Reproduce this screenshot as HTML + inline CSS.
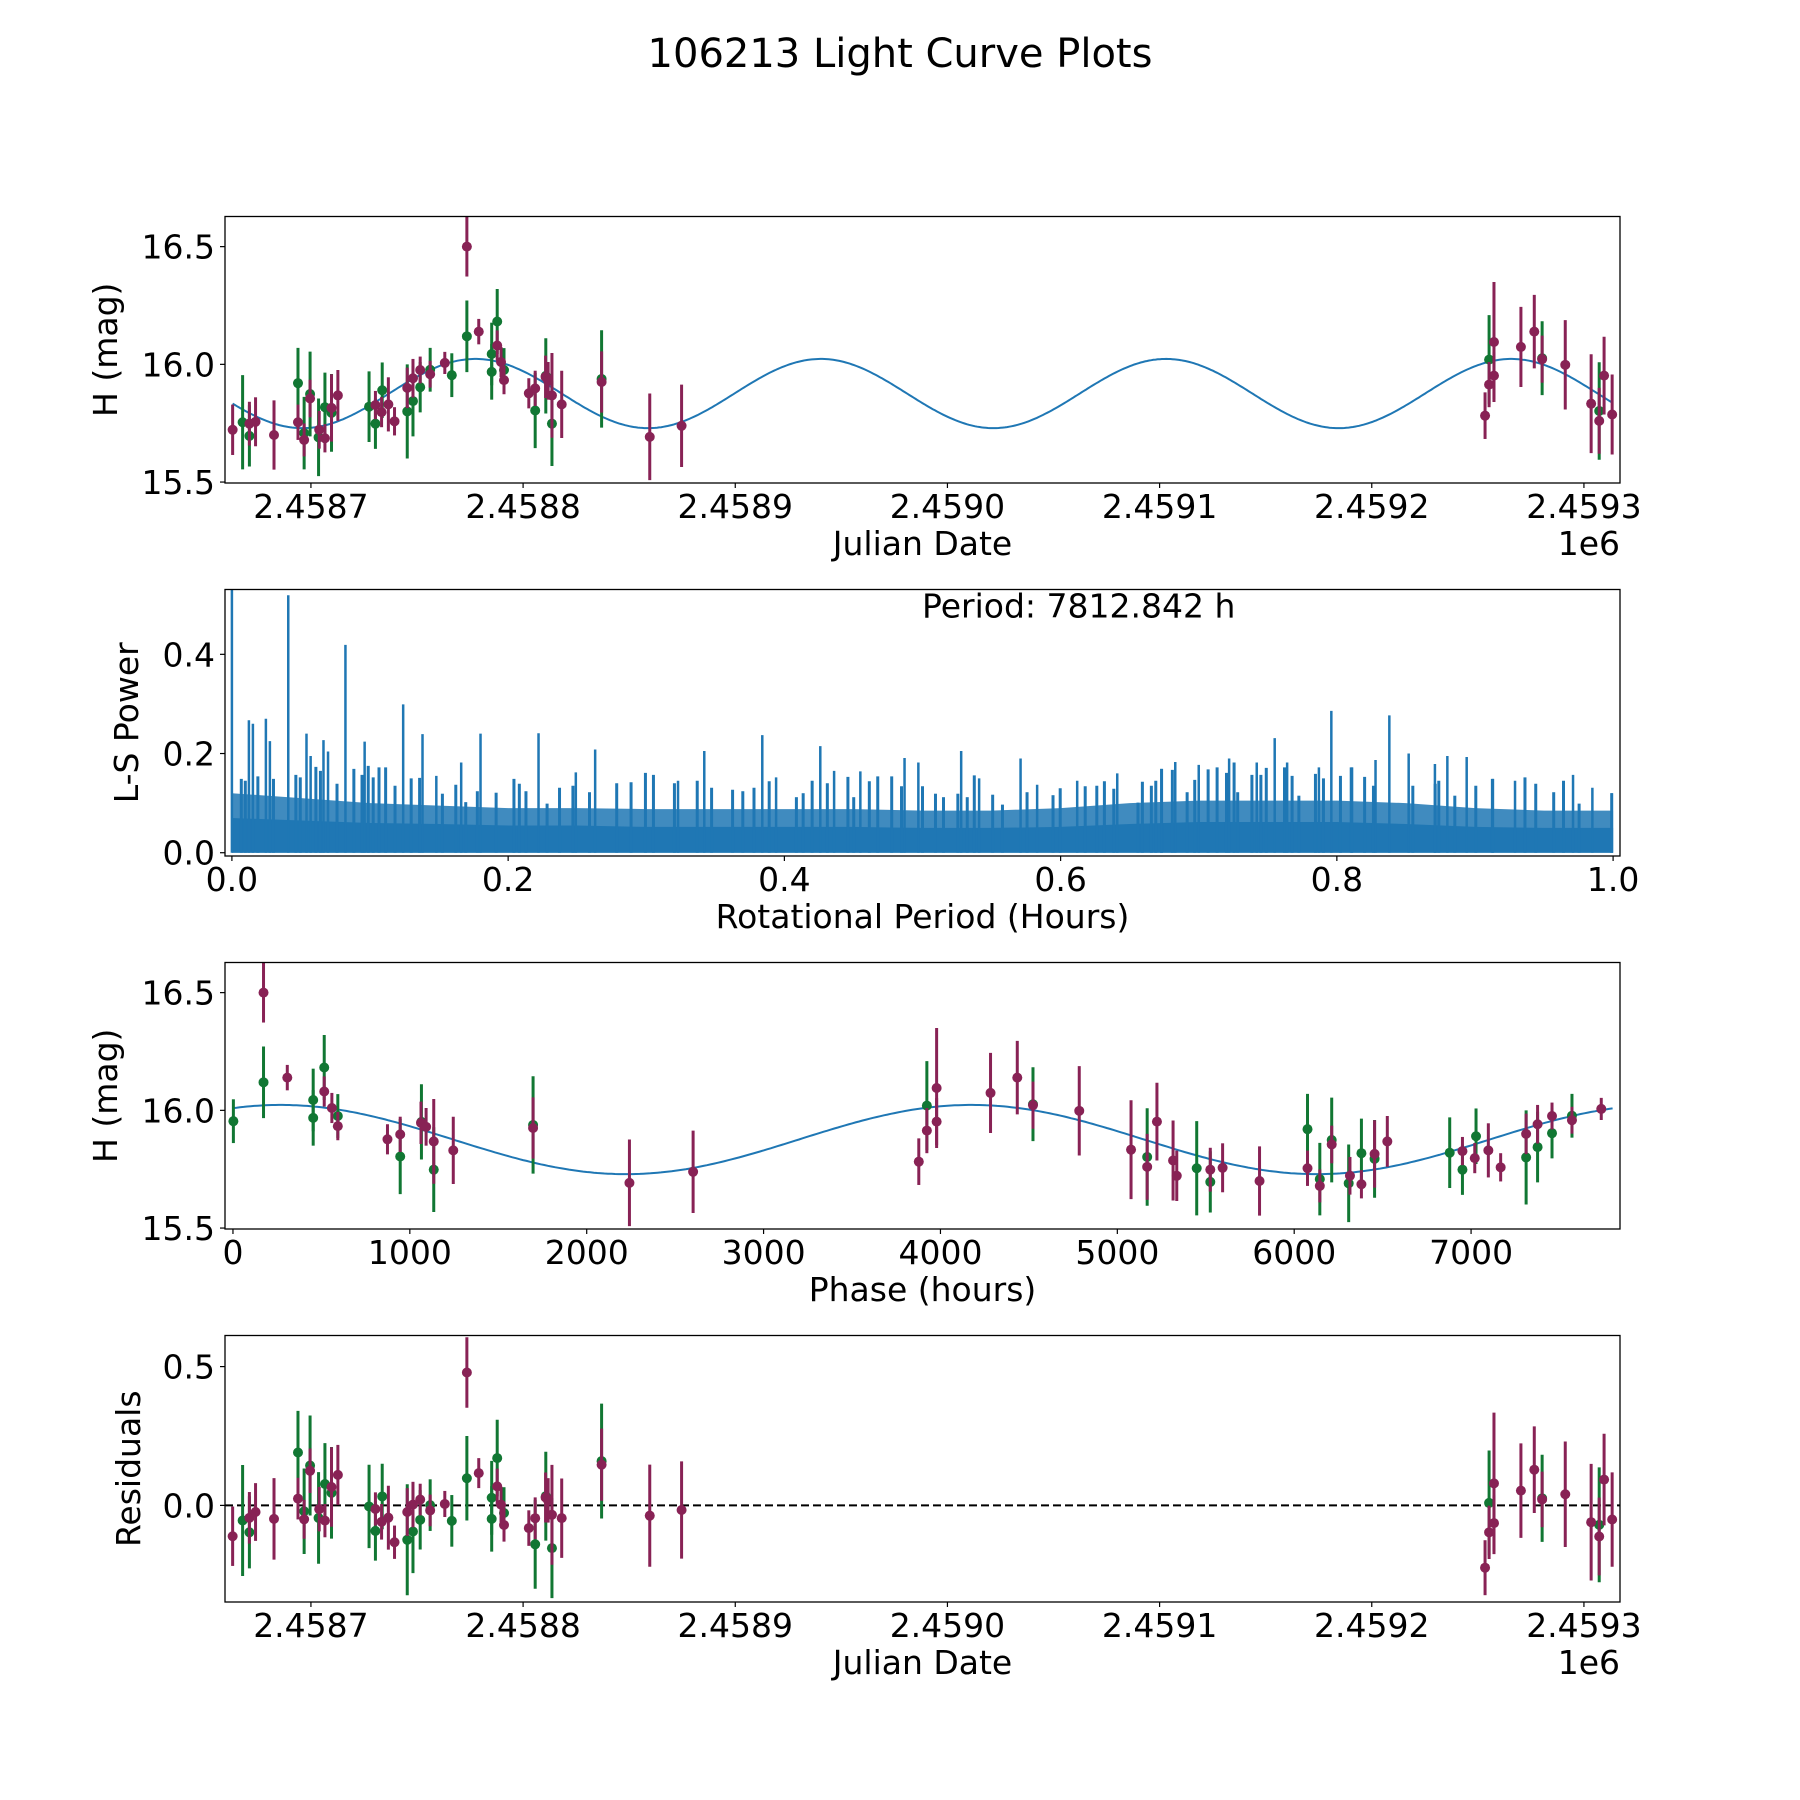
<!DOCTYPE html>
<html><head><meta charset="utf-8"><style>
html,body{margin:0;padding:0;background:#fff;}
svg{display:block;font-family:"DejaVu Sans","Liberation Sans",sans-serif;}
</style></head><body>
<svg id="fig" width="1800" height="1800" viewBox="0 0 1800 1800" xmlns="http://www.w3.org/2000/svg">
<rect width="1800" height="1800" fill="#fff"/>
<text x="900" y="67" font-size="40" text-anchor="middle">106213 Light Curve Plots</text>
</svg>
<script>
// ---- data (JD - 2458000) ----
const jdOff = [663.1,667.8,671.0,671.0,673.9,682.6,693.9,693.9,696.8,696.8,699.6,699.6,703.6,703.9,706.6,706.6,709.7,709.7,712.7,727.4,730.4,730.4,733.3,733.6,736.5,739.4,745.4,745.4,748.1,748.1,751.5,751.5,756.2,756.2,763.1,766.4,773.5,773.5,779.1,785.2,785.2,787.8,787.8,789.6,791.0,791.0,802.7,805.7,805.7,810.6,810.7,811.8,813.6,813.6,818.2,837.0,837.0,859.7,874.7,1253.4,1255.3,1255.3,1257.6,1257.6,1270.3,1276.6,1280.3,1280.3,1291.2,1303.4,1307.2,1307.2,1309.5,1313.3];
const mag = [15.722,15.754,15.748,15.696,15.756,15.70,15.754,15.92,15.708,15.679,15.874,15.855,15.69,15.722,15.818,15.686,15.815,15.794,15.868,15.82,15.748,15.827,15.797,15.89,15.83,15.758,15.80,15.90,15.844,15.941,15.903,15.976,15.977,15.958,16.006,15.954,16.119,16.5,16.139,16.044,15.968,16.182,16.08,16.01,15.976,15.933,15.877,15.898,15.804,15.947,15.951,15.93,15.868,15.748,15.83,15.938,15.925,15.692,15.739,15.782,15.914,16.02,16.095,15.952,16.074,16.139,16.026,16.022,15.998,15.833,15.802,15.76,15.952,15.787];
const magErr = [0.107,0.20,0.093,0.13,0.104,0.147,0.075,0.15,0.154,0.07,0.18,0.08,0.165,0.08,0.147,0.06,0.143,0.165,0.108,0.15,0.107,0.06,0.064,0.118,0.115,0.06,0.2,0.086,0.15,0.082,0.107,0.057,0.093,0.057,0.047,0.093,0.152,0.127,0.054,0.133,0.118,0.138,0.064,0.064,0.093,0.06,0.064,0.075,0.16,0.09,0.16,0.08,0.18,0.18,0.143,0.207,0.13,0.184,0.175,0.099,0.096,0.189,0.255,0.1,0.17,0.156,0.157,0.1,0.19,0.21,0.207,0.14,0.165,0.17];
const source = ["M","G","M","G","M","M","M","G","G","M","G","M","G","M","G","M","M","G","M","G","G","M","M","G","M","M","G","M","G","M","G","M","G","M","M","G","G","M","M","G","G","G","M","M","G","M","M","M","G","M","G","M","M","G","M","G","M","M","M","M","M","G","M","M","M","M","G","M","M","M","G","M","M","M"];
// fit parameters
const fitMean = 15.876, fitAmp = 0.147, fitPeriodDays = 162.768, fitMaxJD = 777.5;
const periodHours = 7812.842, phaseT0 = 766.3;
// periodogram: tall spikes, medium spikes and band envelope
const spikePeriod = [0.0,0.0123,0.0152,0.0246,0.0275,0.0408,0.054,0.057,0.0663,0.0696,0.0822,0.0961,0.124,0.138,0.148,0.166,0.180,0.222,0.249,0.263,0.323,0.342,0.384,0.394,0.426,0.436,0.455,0.487,0.497,0.528,0.541,0.571,0.583,0.612,0.641,0.673,0.683,0.70,0.722,0.742,0.755,0.764,0.787,0.796,0.811,0.828,0.838,0.852,0.871,0.880,0.894,0.913,0.929,0.971,0.985,0.999];
const spikePower = [0.55,0.267,0.26,0.27,0.225,0.519,0.24,0.195,0.227,0.204,0.419,0.224,0.299,0.239,0.155,0.182,0.24,0.241,0.162,0.208,0.145,0.205,0.237,0.152,0.215,0.165,0.164,0.191,0.182,0.205,0.15,0.19,0.137,0.145,0.16,0.169,0.183,0.177,0.19,0.182,0.231,0.182,0.172,0.286,0.172,0.187,0.277,0.20,0.179,0.195,0.193,0.149,0.145,0.157,0.131,0.12];
const medPeriod = [0.0068,0.0097,0.0188,0.0301,0.0463,0.0495,0.0608,0.0641,0.0761,0.0883,0.0942,0.0987,0.1023,0.1065,0.1113,0.1181,0.1298,0.1359,0.1524,0.1621,0.1693,0.1777,0.1913,0.2042,0.2081,0.2129,0.2282,0.2372,0.2469,0.2589,0.2786,0.2890,0.2994,0.3052,0.3204,0.3369,0.3473,0.3625,0.3699,0.3780,0.3890,0.4087,0.4136,0.4201,0.4311,0.4460,0.4502,0.4615,0.4676,0.4777,0.4848,0.5,0.5094,0.5152,0.5256,0.5324,0.5375,0.5508,0.5579,0.5757,0.5945,0.5997,0.6178,0.6262,0.6317,0.6385,0.6560,0.6592,0.6657,0.6689,0.6731,0.6809,0.6916,0.6971,0.7068,0.7133,0.7201,0.7256,0.7282,0.7385,0.7450,0.7489,0.7621,0.7676,0.7725,0.7845,0.7903,0.8026,0.8104,0.8201,0.8265,0.8550,0.8712,0.8738,0.8854,0.9006,0.9126,0.9362,0.9440,0.9570,0.9641,0.9754,0.9990];
const medPower = [0.149,0.145,0.154,0.149,0.157,0.152,0.173,0.165,0.139,0.169,0.157,0.175,0.152,0.172,0.172,0.135,0.150,0.151,0.119,0.137,0.102,0.124,0.121,0.149,0.139,0.124,0.099,0.131,0.135,0.122,0.140,0.142,0.161,0.157,0.140,0.145,0.131,0.127,0.124,0.131,0.144,0.112,0.120,0.145,0.140,0.153,0.112,0.144,0.154,0.154,0.134,0.134,0.119,0.112,0.119,0.112,0.156,0.117,0.097,0.122,0.116,0.130,0.134,0.135,0.144,0.129,0.101,0.143,0.135,0.145,0.169,0.167,0.122,0.147,0.168,0.172,0.161,0.182,0.122,0.157,0.157,0.171,0.172,0.155,0.115,0.159,0.150,0.155,0.172,0.153,0.135,0.135,0.139,0.145,0.115,0.135,0.149,0.152,0.139,0.122,0.145,0.099,0.120];
const bandPeriod = [0,0.05,0.1,0.15,0.2,0.25,0.3,0.35,0.4,0.45,0.5,0.55,0.6,0.65,0.7,0.75,0.8,0.85,0.9,0.95,1.0];
const bandTop = [0.12,0.11,0.10,0.095,0.09,0.09,0.088,0.088,0.088,0.088,0.085,0.085,0.09,0.10,0.105,0.105,0.105,0.10,0.09,0.085,0.085];
const bandSolid = [0.07,0.065,0.06,0.058,0.055,0.055,0.052,0.052,0.052,0.052,0.05,0.05,0.052,0.058,0.062,0.062,0.062,0.058,0.052,0.05,0.05];
// ticks
const jdTicks = [700,800,900,1000,1100,1200,1300];
const jdTickLabels = ["2.4587","2.4588","2.4589","2.4590","2.4591","2.4592","2.4593"];
const magTicks = [15.5,16.0,16.5];
const magTickLabels = ["15.5","16.0","16.5"];
const lsXTicks = [0,0.2,0.4,0.6,0.8,1.0];
const lsXTickLabels = ["0.0","0.2","0.4","0.6","0.8","1.0"];
const lsYTicks = [0,0.2,0.4];
const lsYTickLabels = ["0.0","0.2","0.4"];
const phaseTicks = [0,1000,2000,3000,4000,5000,6000,7000];
const phaseTickLabels = ["0","1000","2000","3000","4000","5000","6000","7000"];
const resTicks = [0,0.5];
const resTickLabels = ["0.0","0.5"];

const NS = "http://www.w3.org/2000/svg";
const svg = document.getElementById("fig");
const COL = {M:"#882255", G:"#117733"};
const BLUE = "#1f77b4";
function mk(tag, attrs, parent){const e=document.createElementNS(NS,tag);for(const k in attrs)e.setAttribute(k,attrs[k]);(parent||svg).appendChild(e);return e;}
function model(t){return fitMean + fitAmp*Math.cos(2*Math.PI*(t-fitMaxJD)/fitPeriodDays);}

const L=225,R=1620,H=266.5;
const tops=[216.5,589.5,962.5,1335.5];
function lin(d0,d1,p0,p1){return v=>p0+(v-d0)/(d1-d0)*(p1-p0);}

function makeAxes(i,name,xlim,ylim){
  const g=mk("g",{});
  
  
  const t=tops[i], b=t+H;
  return {g,t,b,x:lin(xlim[0],xlim[1],L,R),y:lin(ylim[0],ylim[1],b,t)};
}
function frame(ax){
  const r=mk("rect",{x:L,y:ax.t,width:R-L,height:H,fill:"none",stroke:"#000","stroke-width":1.3},ax.g);
  
  
}
function clip(ax,id){
  const c=mk("clipPath",{id:id},ax.g);
  mk("rect",{x:L,y:ax.t,width:R-L,height:H},c);
  const g=mk("g",{"clip-path":"url(#"+id+")"},ax.g);
  
  
  return g;
}
function xticks(ax,vals,labels,name){
  vals.forEach((v,k)=>{const px=ax.x(v);
    mk("line",{x1:px,x2:px,y1:ax.b,y2:ax.b+5,stroke:"#000","stroke-width":1.2},ax.g);
    const tx=mk("text",{x:px,y:ax.b+35,"font-size":33,"text-anchor":"middle"},ax.g);
    tx.textContent=labels[k];
    
    
  });
}
function yticks(ax,vals,labels,name){
  vals.forEach((v,k)=>{const py=ax.y(v);
    mk("line",{x1:L-5,x2:L,y1:py,y2:py,stroke:"#000","stroke-width":1.2},ax.g);
    const tx=mk("text",{x:L-10,y:py+12,"font-size":33,"text-anchor":"end"},ax.g);
    tx.textContent=labels[k];
    
    
  });
}
function label(ax,txt,xl,yl,ylx){
  const a=mk("text",{x:(L+R)/2,y:ax.b+72,"font-size":33,"text-anchor":"middle"},ax.g);
  a.textContent=xl;
  
  
  const cy=ax.t+H/2;
  const b=mk("text",{x:ylx,y:cy,"font-size":33,"text-anchor":"middle",transform:"rotate(-90 "+ylx+" "+cy+")"},ax.g);
  b.textContent=yl;
  
  
}
function errpoints(g,ax,xs,ys,es){
  ["G","M"].forEach(s=>{
    for(let k=0;k<xs.length;k++){ if(source[k]!==s) continue;
      const px=ax.x(xs[k]);
      const l=mk("line",{x1:px,x2:px,y1:ax.y(ys[k]-es[k]),y2:ax.y(ys[k]+es[k]),stroke:COL[s],"stroke-width":3},g);
      
      
    }
    for(let k=0;k<xs.length;k++){ if(source[k]!==s) continue;
      const c=mk("circle",{cx:ax.x(xs[k]),cy:ax.y(ys[k]),r:5,fill:COL[s]},g);
      
      
    }
  });
}
const jdLim=[659.5,1317], magLim=[15.496,16.628];

// ---- Panel 1: light curve ----
(function(){
  const ax=makeAxes(0,'light-curve-panel',jdLim,magLim);
  const g=clip(ax,'c1');
  let d="";
  for(let t=jdOff[0];t<=jdOff[jdOff.length-1];t+=1){d+=(d?"L":"M")+ax.x(t).toFixed(1)+","+ax.y(model(t)).toFixed(1);}
  const p=mk("path",{d:d,fill:"none",stroke:BLUE,"stroke-width":2},g);
  
  
  errpoints(g,ax,jdOff,mag,magErr);
  frame(ax);
  xticks(ax,jdTicks,jdTickLabels,'x');
  yticks(ax,magTicks,magTickLabels,'y');
  label(ax,'','Julian Date','H (mag)',117);
  const o=mk("text",{x:R,y:ax.b+72,"font-size":33,"text-anchor":"end"},ax.g);o.textContent="1e6";
  
  
})();

// ---- Panel 2: periodogram ----
(function(){
  const ax=makeAxes(1,'periodogram-panel',[-0.005,1.005],[-0.0066,0.5307]);
  const g=clip(ax,'c2');
  let top="",sol="";
  bandPeriod.forEach((p,k)=>{top+=(k?"L":"M")+ax.x(p)+","+ax.y(bandTop[k]);});
  const last=bandPeriod.length-1;
  top+="L"+ax.x(bandPeriod[last])+","+ax.y(0)+"L"+ax.x(bandPeriod[0])+","+ax.y(0)+"Z";
  const b1=mk("path",{d:top,fill:BLUE,"fill-opacity":0.85},g);
  
  
  bandPeriod.forEach((p,k)=>{sol+=(k?"L":"M")+ax.x(p)+","+ax.y(bandSolid[k]);});
  sol+="L"+ax.x(bandPeriod[last])+","+ax.y(0)+"L"+ax.x(bandPeriod[0])+","+ax.y(0)+"Z";
  const b2=mk("path",{d:sol,fill:BLUE},g);
  
  
  medPeriod.forEach((p,k)=>{
    const l=mk("line",{x1:ax.x(p),x2:ax.x(p),y1:ax.y(0),y2:ax.y(medPower[k]),stroke:BLUE,"stroke-width":3},g);
    
    
  });
  spikePeriod.forEach((p,k)=>{
    const l=mk("line",{x1:ax.x(p),x2:ax.x(p),y1:ax.y(0),y2:ax.y(spikePower[k]),stroke:BLUE,"stroke-width":2.5},g);
    
    
  });
  frame(ax);
  xticks(ax,lsXTicks,lsXTickLabels,'x');
  yticks(ax,lsYTicks,lsYTickLabels,'y');
  label(ax,'','Rotational Period (Hours)','L-S Power',138);
  const t=mk("text",{x:922,y:ax.t+28,"font-size":33},ax.g);
  t.textContent="Period: 7812.842 h";
  
  
})();

// ---- Panel 3: phase-folded ----
(function(){
  const ax=makeAxes(2,'phase-panel',[-45,7842],magLim);
  const g=clip(ax,'c3');
  let d="";
  for(let ph=0;ph<=periodHours;ph+=20){d+=(d?"L":"M")+ax.x(ph).toFixed(1)+","+ax.y(model(phaseT0+ph/24)).toFixed(1);}
  const p=mk("path",{d:d,fill:"none",stroke:BLUE,"stroke-width":2},g);
  
  
  const phase=jdOff.map(t=>{let v=((t-phaseT0)*24)%periodHours;if(v<0)v+=periodHours;return v;});
  errpoints(g,ax,phase,mag,magErr);
  frame(ax);
  xticks(ax,phaseTicks,phaseTickLabels,'x');
  yticks(ax,magTicks,magTickLabels,'y');
  label(ax,'','Phase (hours)','H (mag)',117);
})();

// ---- Panel 4: residuals ----
(function(){
  const ax=makeAxes(3,'residuals-panel',jdLim,[-0.348,0.612]);
  const g=clip(ax,'c4');
  const z=mk("line",{x1:L,x2:R,y1:ax.y(0),y2:ax.y(0),stroke:"#000","stroke-width":2,"stroke-dasharray":"8,4"},g);
  
  
  const res=jdOff.map((t,k)=>mag[k]-model(t));
  errpoints(g,ax,jdOff,res,magErr);
  frame(ax);
  xticks(ax,jdTicks,jdTickLabels,'x');
  yticks(ax,resTicks,resTickLabels,'y');
  label(ax,'','Julian Date','Residuals',140);
  const o=mk("text",{x:R,y:ax.b+72,"font-size":33,"text-anchor":"end"},ax.g);o.textContent="1e6";
  
  
})();
</script>
</body></html>
